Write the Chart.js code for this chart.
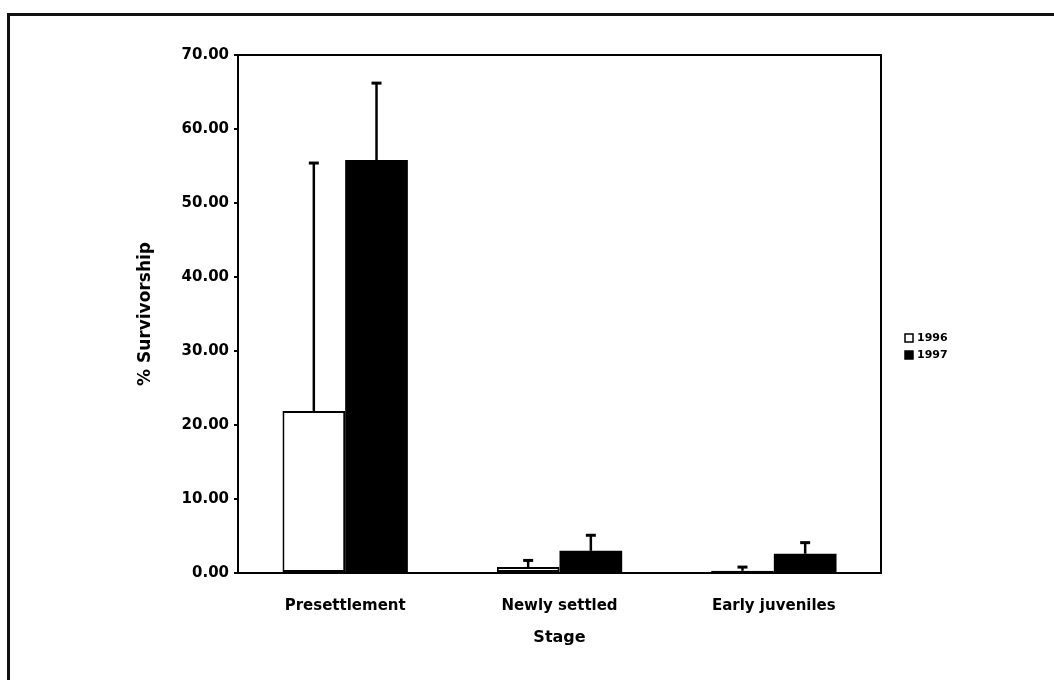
<!DOCTYPE html>
<html>
<head>
<meta charset="utf-8">
<script src="https://cdn.jsdelivr.net/npm/chart.js@4"></script>
<style>
  html, body { margin: 0; padding: 0; background: #fff; }
  #wrap { position: relative; width: 1054px; height: 680px; overflow: hidden; }
  #frame { position: absolute; left: 7px; top: 13px; width: 1100px; height: 700px;
    border-top: 3px solid #111; border-left: 3px solid #111; }
  canvas { position: absolute; left: 0; top: 0; }
</style>
</head>
<body>
<div id="wrap">
  <div id="frame"></div>
  <canvas id="chart" width="1054" height="680"></canvas>
</div>
<script>
const stages = ["Presettlement", "Newly settled", "Early juveniles"];
const years = ["1996", "1997"];
const survival1996 = [21.9, 0.8, 0.3];
const survival1997 = [55.8, 3.0, 2.6];
const error1996 = [33.5, 0.9, 0.5];
const error1997 = [10.4, 2.1, 1.5];
const yTicks = [0, 10, 20, 30, 40, 50, 60, 70];

const FONT = "'DejaVu Sans', sans-serif";

const errorBars = {
  id: "errorBars",
  afterDatasetsDraw(chart) {
    const { ctx, scales } = chart;
    const errors = [error1996, error1997];
    ctx.save();
    ctx.strokeStyle = "#000";
    chart.data.datasets.forEach((dataset, di) => {
      chart.getDatasetMeta(di).data.forEach((bar, i) => {
        const top = scales.y.getPixelForValue(dataset.data[i] + errors[di][i]);
        ctx.lineWidth = 2.5;
        ctx.beginPath();
        ctx.moveTo(bar.x, bar.y);
        ctx.lineTo(bar.x, top);
        ctx.stroke();
        ctx.lineWidth = 3;
        ctx.beginPath();
        ctx.moveTo(bar.x - 5, top);
        ctx.lineTo(bar.x + 5, top);
        ctx.stroke();
      });
    });
    ctx.restore();
  },
};

const plotBox = {
  id: "plotBox",
  afterDraw(chart) {
    const { ctx, chartArea: a } = chart;
    ctx.save();
    ctx.strokeStyle = "#000";
    ctx.lineWidth = 2;
    ctx.strokeRect(a.left, a.top, a.right - a.left, a.bottom - a.top);

    // legend at the right
    ctx.font = `bold 11px ${FONT}`;
    ctx.textBaseline = "middle";
    chart.data.datasets.forEach((dataset, i) => {
      const y = 338 + i * 17;
      ctx.fillStyle = dataset.backgroundColor;
      ctx.fillRect(905, y - 4, 8, 8);
      ctx.lineWidth = 1.5;
      ctx.strokeRect(905, y - 4, 8, 8);
      ctx.fillStyle = "#000";
      ctx.fillText(dataset.label, 917, y);
    });
    ctx.restore();
  },
};

new Chart(document.getElementById("chart"), {
  type: "bar",
  data: {
    labels: stages,
    datasets: [
      {
        label: years[0],
        data: survival1996,
        backgroundColor: "#fff",
        borderColor: "#000",
        borderWidth: 2,
        borderSkipped: false,
      },
      {
        label: years[1],
        data: survival1997,
        backgroundColor: "#000",
        borderColor: "#000",
        borderWidth: 0,
      },
    ],
  },
  options: {
    responsive: false,
    devicePixelRatio: 1,
    animation: false,
    categoryPercentage: 0.585,
    barPercentage: 1.0,
    layout: { padding: { top: 55, right: 173, bottom: 0, left: 0 } },
    plugins: {
      legend: { display: false },
      tooltip: { enabled: false },
    },
    scales: {
      x: {
        grid: { display: false, drawTicks: false },
        border: { display: false },
        ticks: {
          color: "#000",
          padding: 24,
          font: { family: FONT, size: 15, weight: "bold" },
        },
        title: {
          display: true,
          text: "Stage",
          color: "#000",
          font: { family: FONT, size: 16, weight: "bold" },
          padding: { top: 0, bottom: 33 },
        },
        afterFit(scale) { scale.height = 107; },
      },
      y: {
        min: 0,
        max: 70,
        afterBuildTicks(scale) { scale.ticks = yTicks.map((v) => ({ value: v })); },
        grid: { display: true, drawOnChartArea: false, tickLength: 4, color: "#000", lineWidth: 2 },
        border: { display: true, color: "#000", width: 2 },
        ticks: {
          color: "#000",
          padding: 5,
          font: { family: FONT, size: 15, weight: "bold" },
          callback: (value) => Number(value).toFixed(2),
        },
        title: {
          display: true,
          text: "% Survivorship",
          color: "#000",
          font: { family: FONT, size: 17, weight: "bold" },
          padding: { top: 135, bottom: 0 },
        },
        afterFit(scale) { scale.width = 238; },
      },
    },
  },
  plugins: [errorBars, plotBox],
});
</script>
</body>
</html>
